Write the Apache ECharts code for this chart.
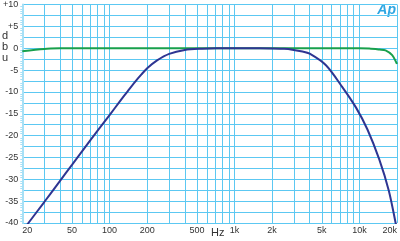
<!DOCTYPE html>
<html>
<head>
<meta charset="utf-8">
<script src="https://cdn.jsdelivr.net/npm/echarts@6/dist/echarts.min.js"></script>
<style>html,body{margin:0;padding:0;background:#fff}#c{width:400px;height:241px}</style>
</head>
<body>
<div id="c"></div>
<script>
// Data
const blueFreq = [20, 22.4, 30, 40, 50, 70, 100, 120, 140, 160, 180, 200, 240, 300, 400, 550, 720, 1000, 1600, 2000, 2500, 2900, 3500, 4000, 5400, 7300, 9400, 11600, 14400, 17200, 19500, 20000];
const blueDb   = [-41.9, -40, -35.2, -30.4, -26.7, -21.1, -15.3, -12.3, -9.8, -7.7, -6.0, -4.6, -2.8, -1.3, -0.4, -0.1, 0, 0, 0, -0.05, -0.15, -0.34, -0.75, -1.26, -3.9, -8.9, -13.6, -18.6, -25.4, -32.6, -40, -41.8];
const greenFreq = [20, 30, 40, 60, 1000, 10000, 12000, 14500, 16200, 18300, 19700, 20000];
const greenDb   = [-0.7, -0.16, -0.03, 0, 0, 0, -0.05, -0.3, -0.5, -1.6, -3.2, -3.6];
const gridFreqs = [20,30,40,50,60,70,80,90,100,200,300,400,500,600,700,800,900,1000,2000,3000,4000,5000,6000,7000,8000,9000,10000,20000];
const xLabelValues = [20, 50, 100, 200, 500, 1000, 2000, 5000, 10000, 20000];
const xLabelTexts  = ['20', '50', '100', '200', '500', '1k', '2k', '5k', '10k', '20k'];
const yLabelValues = [10, 5, 0, -5, -10, -15, -20, -25, -30, -35, -40];
const yLabelTexts  = ['+10', '+5', '0', '-5', '-10', '-15', '-20', '-25', '-30', '-35', '-40'];

const gridColor = '#5cc8f2';
const chart = echarts.init(document.getElementById('c'), null, {renderer: 'canvas'});
const font = 'Liberation Sans, Arial, sans-serif';

function xLabel(v) {
  let best = 0, bd = Infinity;
  xLabelValues.forEach((x, i) => { const d = Math.abs(Math.log10(x) - Math.log10(v)); if (d < bd) { bd = d; best = i; } });
  return bd < 0.01 ? xLabelTexts[best] : '';
}
function yLabel(v) {
  const i = yLabelValues.findIndex(y => Math.abs(y - v) < 1e-6);
  return i >= 0 ? yLabelTexts[i] : '';
}

chart.setOption({
  animation: false,
  backgroundColor: '#fff',
  grid: {left: 21, right: 2, top: 4, bottom: 18, containLabel: false},
  xAxis: {
    type: 'log', logBase: 10, min: 20, max: 20000,
    axisLine: {show: false},
    axisTick: {show: false, customValues: gridFreqs},
    splitLine: {show: true, lineStyle: {color: gridColor, width: 1}},
    axisLabel: {customValues: xLabelValues, formatter: xLabel, fontSize: 9, color: '#333', margin: 3, fontFamily: font,
      alignMinLabel: 'left', alignMaxLabel: 'right'}
  },
  yAxis: {
    type: 'value', min: -40, max: 10, interval: 2.5,
    axisLine: {show: true, lineStyle: {color: '#a6e0f6', width: 2}},
    axisTick: {show: false},
    minorTick: {show: true, splitNumber: 5, length: 2, lineStyle: {color: '#a6e0f6'}},
    splitLine: {show: true, lineStyle: {color: gridColor, width: 1}},
    axisLabel: {formatter: yLabel, fontSize: 9, color: '#333', margin: 4, fontFamily: font}
  },
  graphic: [
    {type: 'text', left: 2, top: 30, style: {text: 'd', font: '11px ' + font, fill: '#333'}},
    {type: 'text', left: 2, top: 41, style: {text: 'b', font: '11px ' + font, fill: '#333'}},
    {type: 'text', left: 2, top: 52, style: {text: 'u', font: '11px ' + font, fill: '#333'}},
    {type: 'text', left: 211, top: 227, style: {text: 'Hz', font: '11px ' + font, fill: '#333'}},
    {type: 'text', right: 4, top: 3, style: {text: 'Ap', font: 'italic bold 14px ' + font, fill: '#2ea6e2'}}
  ],
  series: [
    {type: 'line', data: greenFreq.map((f, i) => [f, greenDb[i]]), showSymbol: false, smooth: 0.3, clip: true,
      lineStyle: {color: '#18a04c', width: 2}, z: 3},
    {type: 'line', data: blueFreq.map((f, i) => [f, blueDb[i]]), showSymbol: false, smooth: 0.3, clip: true,
      lineStyle: {color: '#2e3592', width: 2}, z: 4}
  ]
});
</script>
</body>
</html>
